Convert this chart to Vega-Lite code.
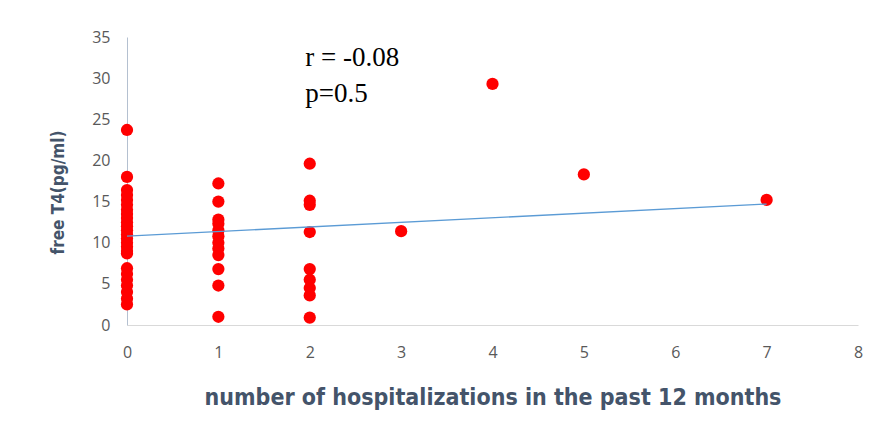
{
  "$schema": "https://vega.github.io/schema/vega-lite/v6.json",
  "width": 731,
  "height": 288,
  "autosize": {"type": "none"},
  "padding": {"left": 127, "top": 37, "right": 25, "bottom": 120},
  "background": "white",
  "config": {"view": {"stroke": null}},
  "datasets": {
    "pts": [
      {"n": 0, "t4": 23.7}, {"n": 0, "t4": 18.0}, {"n": 0, "t4": 16.4}, {"n": 0, "t4": 15.8},
      {"n": 0, "t4": 15.2}, {"n": 0, "t4": 14.6}, {"n": 0, "t4": 14.0}, {"n": 0, "t4": 13.5},
      {"n": 0, "t4": 13.0}, {"n": 0, "t4": 12.5}, {"n": 0, "t4": 12.0}, {"n": 0, "t4": 11.5},
      {"n": 0, "t4": 11.0}, {"n": 0, "t4": 10.5}, {"n": 0, "t4": 10.0}, {"n": 0, "t4": 9.5},
      {"n": 0, "t4": 9.0}, {"n": 0, "t4": 8.7}, {"n": 0, "t4": 6.9}, {"n": 0, "t4": 6.2},
      {"n": 0, "t4": 5.5}, {"n": 0, "t4": 4.8}, {"n": 0, "t4": 4.0}, {"n": 0, "t4": 3.2},
      {"n": 0, "t4": 2.5},
      {"n": 1, "t4": 17.2}, {"n": 1, "t4": 15.0}, {"n": 1, "t4": 12.8}, {"n": 1, "t4": 12.3},
      {"n": 1, "t4": 11.5}, {"n": 1, "t4": 10.8}, {"n": 1, "t4": 10.0}, {"n": 1, "t4": 9.3},
      {"n": 1, "t4": 8.5}, {"n": 1, "t4": 6.8}, {"n": 1, "t4": 4.8}, {"n": 1, "t4": 1.0},
      {"n": 2, "t4": 19.6}, {"n": 2, "t4": 15.1}, {"n": 2, "t4": 14.6}, {"n": 2, "t4": 11.3},
      {"n": 2, "t4": 6.8}, {"n": 2, "t4": 5.5}, {"n": 2, "t4": 4.5}, {"n": 2, "t4": 3.6},
      {"n": 2, "t4": 0.9},
      {"n": 3, "t4": 11.4}, {"n": 4, "t4": 29.3}, {"n": 5, "t4": 18.3}, {"n": 7, "t4": 15.2}
    ],
    "trend": [{"n": 0, "t4": 10.8}, {"n": 7, "t4": 14.7}],
    "notes": [
      {"n": 1.95, "t4": 32.4, "label": "r = -0.08"},
      {"n": 1.95, "t4": 28.1, "label": "p=0.5"}
    ]
  },
  "layer": [
    {
      "data": {"name": "pts"},
      "mark": {"type": "circle", "color": "#ff0000", "opacity": 1, "size": 150},
      "encoding": {
        "x": {
          "field": "n", "type": "quantitative",
          "scale": {"domain": [0, 8], "nice": false},
          "axis": {
            "values": [0, 1, 2, 3, 4, 5, 6, 7, 8], "format": "d", "labelFlush": false,
            "grid": false, "ticks": false,
            "domainColor": "#d9d9d9", "domainWidth": 1,
            "labelFont": "Open Sans", "labelFontSize": 16, "labelColor": "#595959",
            "labelPadding": 19,
            "title": "number of hospitalizations in the past 12 months",
            "titleFont": "DejaVu Sans Condensed, Open Sans", "titleFontSize": 23, "titleFontWeight": "bold",
            "titleColor": "#44546a", "titlePadding": 26
          }
        },
        "y": {
          "field": "t4", "type": "quantitative",
          "scale": {"domain": [0, 35], "nice": false},
          "axis": {
            "values": [0, 5, 10, 15, 20, 25, 30, 35], "format": "d", "labelFlush": false,
            "grid": false, "ticks": false,
            "domainColor": "#b4c0d0", "domainWidth": 1,
            "labelFont": "Open Sans", "labelFontSize": 16, "labelColor": "#595959",
            "labelPadding": 17,
            "title": "free T4(pg/ml)",
            "titleFont": "DejaVu Sans Condensed, Open Sans", "titleFontSize": 17, "titleFontWeight": "bold",
            "titleColor": "#44546a", "titlePadding": 24, "titleY": 155
          }
        }
      }
    },
    {
      "data": {"name": "trend"},
      "mark": {"type": "line", "color": "#5b9bd5", "strokeWidth": 1.3},
      "encoding": {
        "x": {"field": "n", "type": "quantitative"},
        "y": {"field": "t4", "type": "quantitative"}
      }
    },
    {
      "data": {"name": "notes"},
      "mark": {"type": "text", "align": "left", "baseline": "middle", "font": "Liberation Serif", "fontSize": 27, "color": "#000000"},
      "encoding": {
        "x": {"field": "n", "type": "quantitative"},
        "y": {"field": "t4", "type": "quantitative"},
        "text": {"field": "label"}
      }
    }
  ]
}
